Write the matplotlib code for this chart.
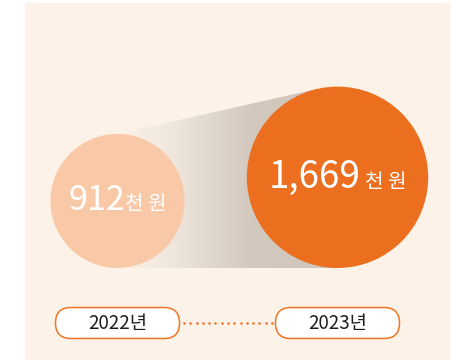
import numpy as np
import matplotlib.pyplot as plt
from matplotlib.patches import Circle, Polygon, FancyBboxPatch, Rectangle
from matplotlib.offsetbox import TextArea, HPacker, AnnotationBbox
from matplotlib.colors import LinearSegmentedColormap

plt.rcParams['font.family'] = ['Noto Sans CJK KR', 'DejaVu Sans']

# 1인당 금액 (천 원)
years = ['2022년', '2023년']
values = [912, 1669]
unit = '천 원'

bg = '#fcf2e8'
circle_colors = ['#f9c9a7', '#ec6f20']
orange = '#ee7628'

fig = plt.figure(figsize=(4.57, 3.6), dpi=100)
ax = fig.add_axes([0, 0, 1, 1])
ax.set_xlim(0, 457)
ax.set_ylim(360, 0)
ax.set_aspect('equal')
ax.axis('off')

# panel background
ax.add_patch(Rectangle((25, 3), 424, 360, color=bg, zorder=0))

# circle area proportional to value, bottoms aligned
k = 2.22
radii = [k * np.sqrt(v) for v in values]
cx = [117.5, 337.5]
base = 268
cy = [base - r for r in radii]

# shaded "cone" between the two circles
px, py = cx[0], base - 2 * radii[0]
dx, dy = cx[1] - px, cy[1] - py
d = np.hypot(dx, dy)
ang = np.arctan2(dy, dx) - np.arcsin(radii[1] / d)
t = np.sqrt(d**2 - radii[1]**2)
tx, ty = px + t * np.cos(ang), py + t * np.sin(ang)
cone = Polygon([(px, py), (tx, ty), (cx[1], ty), (cx[1], base), (px, base)],
               closed=True, facecolor='none', edgecolor='none')
ax.add_patch(cone)
cmap = LinearSegmentedColormap.from_list(
    'cone', [(0, bg), (0.25, '#efe6dc'), (0.6, '#d3c9be'), (1, '#cfc5ba')])
grad = np.linspace(0, 1, 256).reshape(1, -1)
im = ax.imshow(grad, cmap=cmap, extent=(px, cx[1], base, ty - 2),
               aspect='auto', zorder=1)
im.set_clip_path(cone)
ax.set_xlim(0, 457)
ax.set_ylim(360, 0)

for x, y, r, c, v in zip(cx, cy, radii, circle_colors, values):
    ax.add_patch(Circle((x, y), r, color=c, zorder=2, linewidth=0))
    size = 24.5 if v < 1000 else 26.5
    num = TextArea(f'{v:,}', textprops=dict(color='white', fontsize=size,
                                            fontweight='light'))
    lab = TextArea(unit, textprops=dict(color='white', fontsize=14.5))
    box = HPacker(children=[num, lab], align='baseline', pad=0,
                  sep=0 if v < 1000 else 3)
    ab = AnnotationBbox(box, (x, y), frameon=False, zorder=3,
                        box_alignment=(0.5, 0.5))
    ax.add_artist(ab)

# year pills and dotted connector
pill_w, pill_h, pill_y = 124, 31, 323
for x, yr in zip(cx, years):
    ax.add_patch(FancyBboxPatch((x - pill_w / 2, pill_y - pill_h / 2), pill_w, pill_h,
                                boxstyle=f'round,pad=0,rounding_size={pill_h / 2}',
                                facecolor='white', edgecolor=orange, linewidth=1.1,
                                zorder=2))
    ax.text(x, pill_y + 1, yr, ha='center', va='center', fontsize=13.5,
            color='#1e1e1e', zorder=3)

dots_x = np.linspace(184, 272, 15)
ax.scatter(dots_x, np.full_like(dots_x, pill_y), s=3.5, color=orange,
           linewidths=0, zorder=2)

fig.savefig('out.png', dpi=100, facecolor='white')
